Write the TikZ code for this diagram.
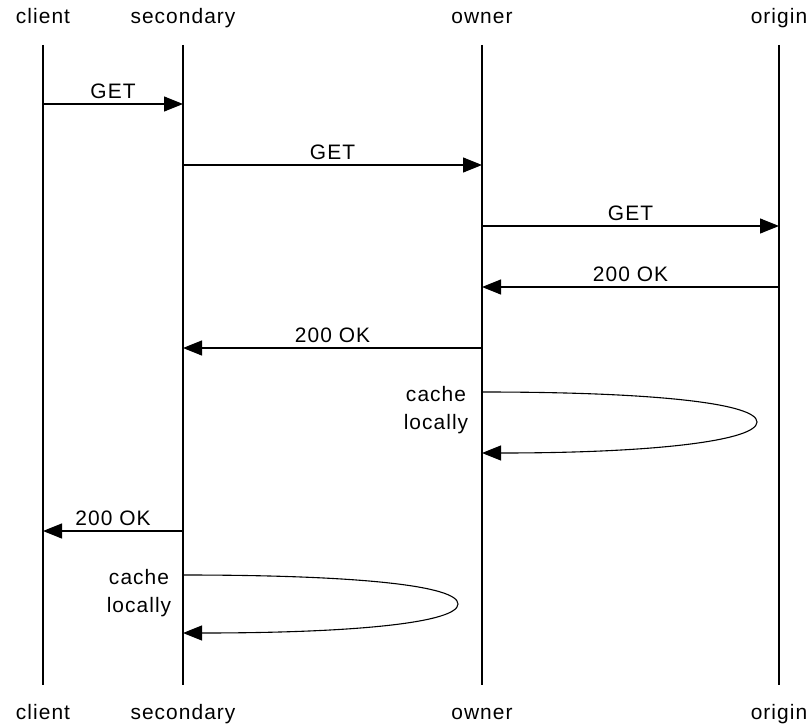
\documentclass[tikz,border=0pt]{standalone}
\usepackage{fontspec}
\setmainfont{Liberation Sans}[LetterSpace=5]
\usetikzlibrary{arrows.meta}
\begin{document}
\begin{tikzpicture}[x=1bp,y=-1bp,
  lbl/.style={font=\fontsize{21}{24}\selectfont, inner sep=0pt},
  life/.style={line width=1.2bp},
  msg/.style={line width=1.2bp,-{Triangle[length=19bp,width=15bp]}},
  loopm/.style={line width=1.1bp,-{Triangle[length=19bp,width=15bp]}}]
\useasboundingbox (0,0) rectangle (811,727);
% actor labels
\node[lbl, anchor=base] (clientT) at (43,24) {client};
\node[lbl, anchor=base] (secT) at (183,24) {secondary};
\node[lbl, anchor=base] (ownT) at (482,24) {owner};
\node[lbl, anchor=base] (origT) at (779,24) {origin};
\node[lbl, anchor=base] (clientB) at (43,719) {client};
\node[lbl, anchor=base] (secB) at (183,719) {secondary};
\node[lbl, anchor=base] (ownB) at (482,719) {owner};
\node[lbl, anchor=base] (origB) at (779,719) {origin};
% lifelines
\coordinate (c0) at (43,45);  \coordinate (c1) at (43,685);
\coordinate (s0) at (183,45); \coordinate (s1) at (183,685);
\coordinate (w0) at (482,45); \coordinate (w1) at (482,685);
\coordinate (o0) at (779,45); \coordinate (o1) at (779,685);
\draw[life] (c0) -- (c1);
\draw[life] (s0) -- (s1);
\draw[life] (w0) -- (w1);
\draw[life] (o0) -- (o1);
% message endpoints
\coordinate (m1a) at (43,104);  \coordinate (m1b) at (183,104);
\coordinate (m2a) at (183,165); \coordinate (m2b) at (482,165);
\coordinate (m3a) at (482,226); \coordinate (m3b) at (779,226);
\coordinate (m4a) at (779,287); \coordinate (m4b) at (482,287);
\coordinate (m5a) at (482,348); \coordinate (m5b) at (183,348);
\coordinate (m7a) at (183,531); \coordinate (m7b) at (43,531);
\coordinate (l1a) at (482,392); \coordinate (l1t) at (757,422); \coordinate (l1b) at (482,453);
\coordinate (l2a) at (183,575); \coordinate (l2t) at (458,604); \coordinate (l2b) at (183,633);
\draw[msg] (m1a) -- node[lbl, above=5bp] (t1) {GET} (m1b);
\draw[msg] (m2a) -- node[lbl, above=5bp] (t2) {GET} (m2b);
\draw[msg] (m3a) -- node[lbl, above=5bp] (t3) {GET} (m3b);
\draw[msg] (m4a) -- node[lbl, above=5bp] (t4) {200 OK} (m4b);
\draw[msg] (m5a) -- node[lbl, above=5bp] (t5) {200 OK} (m5b);
\draw[msg] (m7a) -- node[lbl, above=5bp] (t7) {200 OK} (m7b);
% self loops
\draw[loopm] (l1a) .. controls (660,392) and (757,404) .. (l1t)
  .. controls (757,440) and (660,453) .. (l1b);
\draw[loopm] (l2a) .. controls (361,575) and (458,586) .. (l2t)
  .. controls (458,622) and (361,633) .. (l2b);
\node[lbl, align=center, font=\fontsize{21}{28}\selectfont] (cl1) at (436,410) {cache\\locally};
\node[lbl, align=center, font=\fontsize{21}{28}\selectfont] (cl2) at (139,593) {cache\\locally};
\end{tikzpicture}
\end{document}
